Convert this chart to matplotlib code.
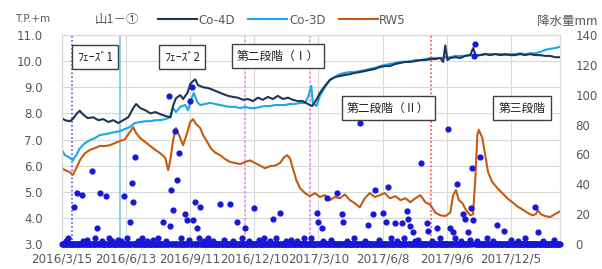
import numpy as np
import pandas as pd
import matplotlib
matplotlib.use('Agg')
import matplotlib.pyplot as plt

plt.rcParams['font.family'] = ['Noto Sans CJK JP', 'DejaVu Sans']

# day offsets from the first observation day
start = pd.Timestamp('2016-03-15')
n_days = 700

co4d_day = [0, 4, 11, 15, 21, 25, 29, 36, 44, 51, 58, 65, 72, 79, 86, 93, 100, 104, 110, 117,
            124, 131, 138, 145, 152, 156, 160, 166, 170, 176, 180, 184, 187, 191, 198, 205, 212,
            219, 226, 233, 240, 247, 254, 261, 268, 275, 282, 289, 296, 303, 310, 317, 324, 331,
            338, 345, 351, 357, 362, 369, 376, 383, 390, 397, 404, 411, 418, 425, 432, 439, 446,
            453, 460, 468, 475, 482, 489, 496, 503, 510, 517, 524, 531, 535, 538, 541, 545, 552,
            559, 566, 573, 577, 581, 587, 594, 601, 608, 615, 622, 629, 636, 643, 650, 657, 664,
            671, 678, 685, 692, 699]
co4d_val = [7.82, 7.74, 7.70, 7.78, 8.00, 8.10, 7.97, 7.82, 7.85, 7.74, 7.78, 7.67, 7.74, 7.63,
            7.74, 7.85, 8.20, 8.36, 8.20, 8.12, 8.00, 8.05, 7.97, 7.90, 7.85, 8.30, 8.58, 8.70,
            8.55, 8.78, 9.12, 9.24, 9.30, 9.08, 9.00, 8.97, 8.90, 8.82, 8.74, 8.67, 8.63, 8.60,
            8.52, 8.55, 8.47, 8.60, 8.52, 8.63, 8.55, 8.67, 8.55, 8.60, 8.52, 8.47, 8.47, 8.36,
            8.28, 8.52, 8.78, 9.05, 9.28, 9.39, 9.43, 9.47, 9.50, 9.55, 9.58, 9.62, 9.66, 9.70,
            9.77, 9.81, 9.81, 9.89, 9.93, 9.97, 9.97, 10.00, 10.04, 10.04, 10.08, 10.08, 10.12,
            9.97, 10.60, 10.04, 10.12, 10.15, 10.12, 10.20, 10.23, 10.50, 10.20, 10.23, 10.27,
            10.23, 10.27, 10.23, 10.27, 10.23, 10.23, 10.27, 10.23, 10.27, 10.23, 10.23, 10.20,
            10.20, 10.15, 10.15]

co3d_day = [0, 4, 11, 15, 20, 25, 32, 39, 46, 53, 60, 67, 74, 81, 88, 95, 102, 110, 117, 124,
            131, 138, 145, 152, 156, 160, 166, 173, 177, 181, 185, 190, 194, 201, 208, 215, 222,
            229, 236, 243, 250, 257, 264, 271, 278, 285, 292, 299, 306, 313, 320, 327, 334, 341,
            345, 350, 352, 357, 362, 369, 376, 383, 390, 397, 404, 411, 418, 425, 432, 439, 446,
            453, 460, 468, 475, 482, 489, 496, 503, 510, 517, 524, 531, 538, 545, 552, 559, 566,
            573, 580, 587, 594, 601, 608, 615, 622, 629, 636, 643, 650, 657, 664, 671, 678, 685,
            692, 699]
co3d_val = [6.60, 6.40, 6.30, 6.20, 6.40, 6.66, 6.86, 6.97, 7.05, 7.17, 7.20, 7.24, 7.28, 7.32,
            7.40, 7.47, 7.63, 7.67, 7.70, 7.70, 7.74, 7.74, 7.78, 7.85, 8.20, 8.05, 8.25, 8.32,
            8.12, 8.50, 8.78, 8.43, 8.32, 8.36, 8.40, 8.36, 8.32, 8.28, 8.25, 8.25, 8.20, 8.25,
            8.20, 8.20, 8.25, 8.28, 8.28, 8.32, 8.32, 8.32, 8.36, 8.36, 8.40, 8.40, 8.60, 9.05,
            8.40, 8.28, 8.66, 9.00, 9.28, 9.39, 9.50, 9.55, 9.58, 9.58, 9.62, 9.66, 9.70, 9.74,
            9.81, 9.85, 9.89, 9.93, 9.97, 9.97, 10.00, 10.04, 10.04, 10.08, 10.12, 10.12, 10.12,
            10.15, 10.15, 10.20, 10.20, 10.20, 10.23, 10.23, 10.23, 10.27, 10.27, 10.27, 10.27,
            10.23, 10.27, 10.27, 10.30, 10.27, 10.30, 10.30, 10.35, 10.43, 10.47, 10.50, 10.55]

rw5_day = [0, 4, 11, 15, 20, 25, 32, 39, 46, 53, 60, 67, 74, 81, 88, 95, 100, 104, 110, 117,
           124, 131, 138, 145, 149, 152, 156, 160, 166, 170, 176, 180, 184, 188, 194, 198, 204,
           209, 215, 222, 229, 236, 243, 250, 257, 264, 271, 278, 285, 292, 299, 306, 312, 316,
           320, 324, 329, 334, 341, 348, 355, 362, 369, 376, 383, 390, 397, 404, 411, 418, 425,
           432, 439, 446, 453, 460, 468, 475, 482, 489, 496, 503, 510, 517, 524, 531, 538, 545,
           549, 553, 557, 562, 567, 573, 577, 580, 583, 585, 590, 594, 598, 604, 611, 618, 625,
           632, 639, 646, 653, 660, 665, 668, 672, 678, 685, 692, 699]
rw5_val = [5.90, 5.83, 5.75, 5.64, 5.90, 6.20, 6.47, 6.60, 6.67, 6.75, 6.75, 6.78, 6.86, 6.94,
           7.00, 7.28, 7.47, 7.25, 7.05, 6.90, 6.75, 6.60, 6.47, 6.30, 5.83, 6.20, 6.98, 7.44,
           7.05, 6.78, 7.28, 7.67, 7.78, 7.60, 7.44, 7.17, 6.90, 6.66, 6.50, 6.40, 6.25, 6.14,
           6.10, 6.06, 6.14, 6.20, 6.10, 6.00, 5.90, 5.98, 6.00, 6.10, 6.33, 6.40, 6.28, 5.90,
           5.44, 5.14, 4.95, 4.83, 4.95, 4.80, 4.87, 4.68, 4.80, 4.75, 4.90, 4.68, 4.56, 4.40,
           4.75, 4.95, 4.80, 4.87, 4.95, 4.75, 4.83, 4.68, 4.75, 4.60, 4.75, 4.87, 4.60, 4.50,
           4.20, 4.10, 4.07, 4.20, 4.87, 5.06, 4.68, 4.56, 4.30, 4.10, 4.14, 5.45, 7.17, 7.37,
           7.06, 6.40, 5.75, 5.37, 5.14, 4.95, 4.75, 4.60, 4.44, 4.33, 4.20, 4.10, 4.14, 4.30,
           4.14, 4.07, 4.03, 4.14, 4.25]

# daily rainfall (mm); days not listed had no rain
rain_day = [17, 21, 28, 42, 49, 53, 62, 87, 95, 98, 100, 102, 142, 150, 152, 153, 156, 158,
            161, 164, 173, 175, 180, 183, 184, 187, 190, 194, 222, 236, 246, 257, 270, 296, 306,
            358, 359, 365, 372, 386, 393, 394, 418, 430, 437, 440, 451, 455, 458, 468, 477, 484,
            486, 489, 493, 504, 512, 514, 526, 542, 545, 549, 555, 563, 566, 570, 574, 576, 577,
            578, 579, 587, 611, 621, 664, 668]
rain_mm = [25, 34, 33, 49, 11, 34, 32, 32, 15, 41, 28, 58, 15, 99, 12, 36, 23, 76,
           43, 61, 20, 16, 96, 105, 16, 28, 11, 25, 27, 27, 15, 11, 24, 17, 21,
           21, 15, 11, 31, 34, 20, 15, 81, 13, 20, 36, 21, 15, 38, 14, 14, 22,
           17, 12, 8, 54, 14, 9, 11, 77, 11, 8, 40, 20, 17, 8, 24, 51, 16,
           126, 134, 58, 13, 9, 25, 8]
small_day = [5, 9, 30, 35, 47, 56, 66, 70, 78, 83, 91, 106, 112, 120, 128, 135, 146, 167, 178,
             192, 200, 205, 212, 228, 240, 252, 262, 276, 284, 292, 300, 314, 322, 330, 340,
             350, 366, 378, 400, 410, 425, 445, 462, 470, 480, 495, 500, 520, 530, 552, 560,
             572, 582, 596, 605, 630, 640, 650, 675, 690]
small_mm = [2, 4, 2, 3, 4, 2, 4, 2, 3, 2, 4, 2, 4, 2, 3, 4, 2, 4, 3,
            4, 2, 4, 2, 3, 2, 4, 2, 3, 4, 2, 4, 2, 3, 2, 4,
            4, 2, 3, 2, 4, 2, 3, 4, 2, 4, 2, 3, 2, 4, 4, 2,
            3, 2, 4, 2, 3, 2, 4, 2, 3]

phase_day = [14, 81, 257, 348, 518]
phase_color = ['#3a3aff', '#6cc8d8', '#e48ae4', '#e48ae4', '#ff2a2a']
phase_style = [':', '-', (0, (2, 1)), (0, (2, 1)), ':']

boxes = ['ﾌｪｰｽﾞ1', 'ﾌｪｰｽﾞ2', '第二段階（Ⅰ）', '第二段階（Ⅱ）', '第三段階']
box_xy = [(95, 57), (182, 57), (278, 56), (388, 108), (522, 108)]

tick_labels_every = 90


def to_dates(days):
    return start + pd.to_timedelta(np.asarray(days), unit='D')


rain = np.zeros(n_days)
rain[small_day] = small_mm
rain[rain_day] = rain_mm
rain_dates = to_dates(np.arange(n_days))

W, H = 602, 269
fig = plt.figure(figsize=(W / 100, H / 100), dpi=100)
ax = fig.add_axes([62 / W, 1 - 244 / H, (560 - 62) / W, (244 - 35) / H])
ax2 = ax.twinx()

grey = '#595959'
grid = '#d9d9d9'

for d, c, s in zip(phase_day, phase_color, phase_style):
    ax.axvline(to_dates([d])[0], color=c, ls=s, lw=1.1, zorder=2)

ax.plot(to_dates(rw5_day), rw5_val, color='#c55a11', lw=1.5, label='RW5', zorder=3)
ax.plot(to_dates(co3d_day), co3d_val, color='#1ea7e6', lw=1.5, label='Co-3D', zorder=4)
ax.plot(to_dates(co4d_day), co4d_val, color='#1f3556', lw=1.5, label='Co-4D', zorder=5)

ax2.scatter(rain_dates, rain, s=12, color='#1717d8', zorder=6, clip_on=False)

ax.set_ylim(3, 11)
ax.set_yticks(np.arange(3, 11.1, 1))
ax.set_yticklabels([f'{v:.1f}' for v in np.arange(3, 11.1, 1)])
ax2.set_ylim(0, 140)
ax2.set_yticks(np.arange(0, 141, 20))

ax.set_xlim(start, start + pd.Timedelta(days=n_days - 1))
ticks = to_dates(np.arange(0, n_days, tick_labels_every))
ax.set_xticks(ticks)
ax.set_xticklabels([f'{t.year}/{t.month}/{t.day}' for t in ticks], fontsize=8.6, color=grey,
                   family='DejaVu Sans')

ax.grid(True, color=grid, lw=0.8, zorder=0)
ax.set_axisbelow(True)
for a in (ax, ax2):
    for sp in a.spines.values():
        sp.set_color(grid)
        sp.set_linewidth(0.8)
ax.tick_params(axis='y', length=0, pad=14, labelsize=8.5, labelcolor=grey)
ax.tick_params(axis='x', length=0, pad=6)
ax2.tick_params(axis='y', length=0, pad=11, labelsize=8.5, labelcolor=grey)
for lab in ax.get_yticklabels() + ax2.get_yticklabels():
    lab.set_family('DejaVu Sans')

fig.text(15 / W, 1 - 19 / H, 'T.P.+m', fontsize=7.5, color=grey, va='center', family='DejaVu Sans')
fig.text(95 / W, 1 - 20 / H, '山1－①', fontsize=9, color=grey, va='center')
fig.text(597 / W, 1 - 21 / H, '降水量mm', fontsize=9, color=grey, va='center', ha='right')

handles, labels = ax.get_legend_handles_labels()
order = [2, 1, 0]
leg = fig.legend([handles[i] for i in order], [labels[i] for i in order], ncol=3,
                 loc='center left', bbox_to_anchor=(158 / W, 1 - 20 / H), frameon=False,
                 handlelength=3.3, handletextpad=0.15, columnspacing=1.1, fontsize=8.5,
                 labelcolor=grey, borderaxespad=0, borderpad=0)
for t in leg.get_texts():
    t.set_family('DejaVu Sans')

for txt, (bx, by) in zip(boxes, box_xy):
    fig.text(bx / W, 1 - by / H, txt, fontsize=8.5, color='#222222', ha='center', va='center',
             zorder=10,
             bbox=dict(boxstyle='square,pad=0.45', fc='white', ec='#404040', lw=1.0))

fig.savefig('out.png', dpi=100)
